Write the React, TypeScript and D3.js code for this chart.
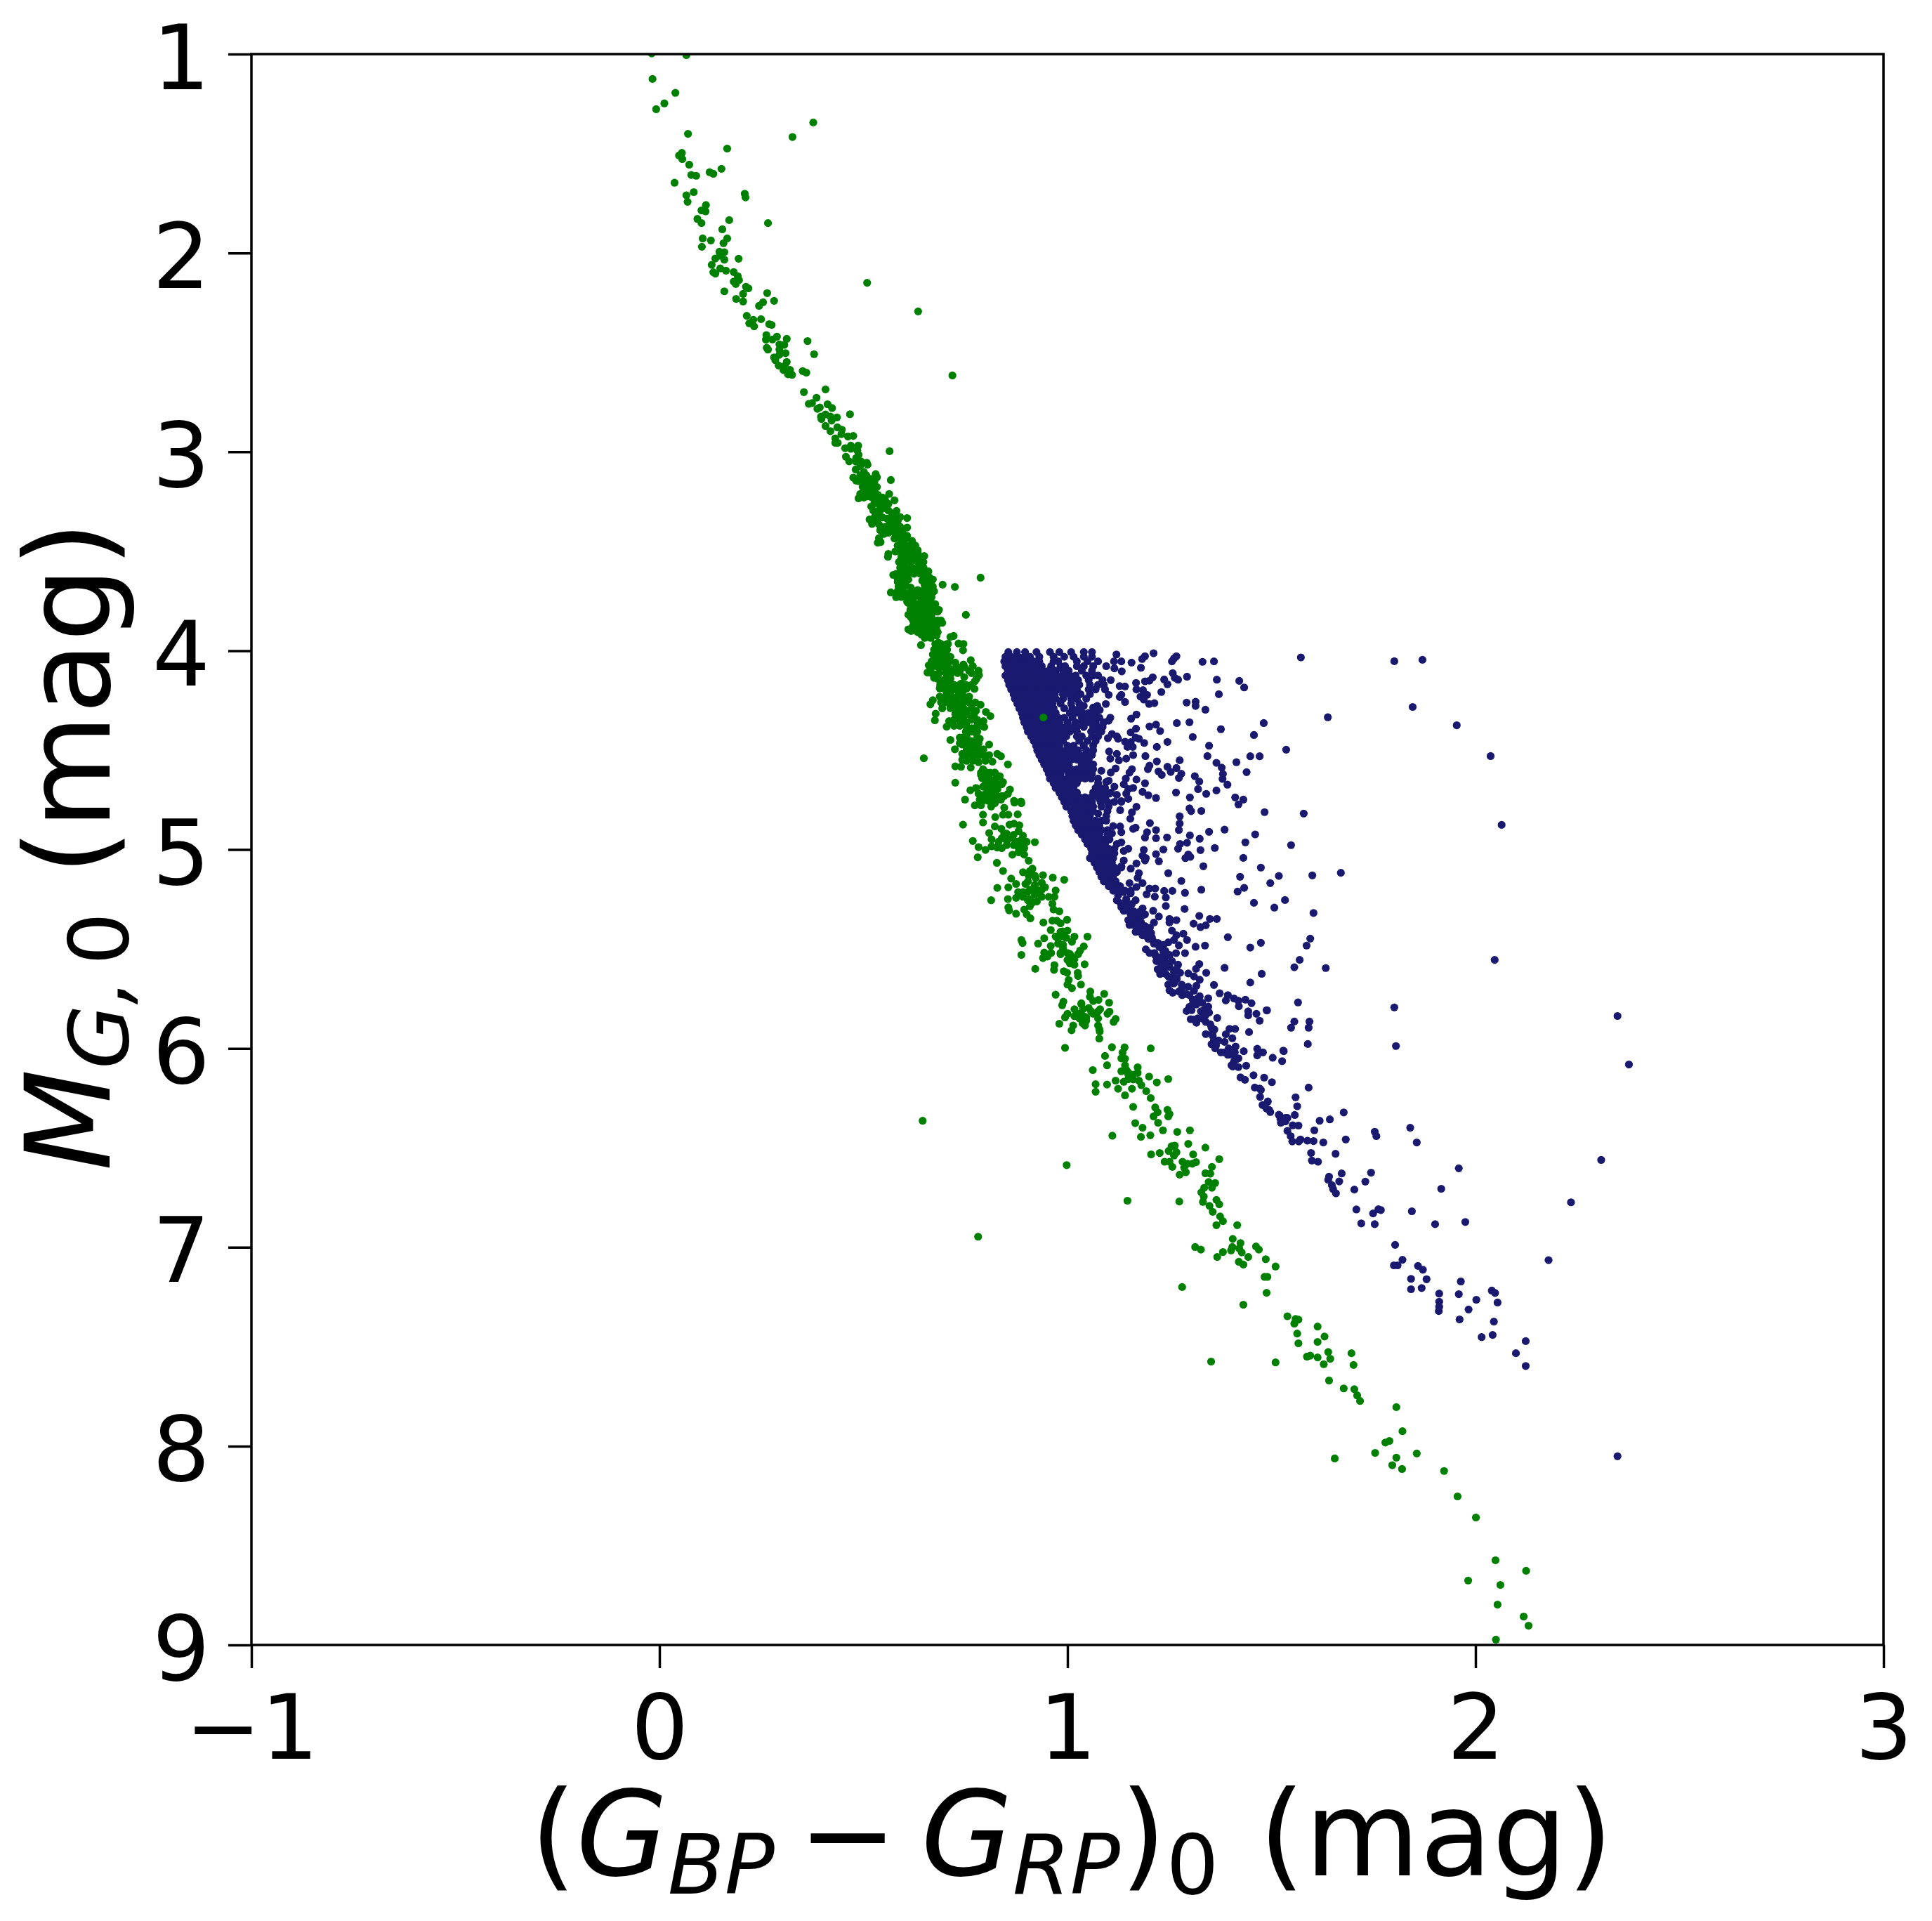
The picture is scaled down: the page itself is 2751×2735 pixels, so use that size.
import React, { useEffect, useRef } from 'react';
import * as d3 from 'd3';

const xTicks = [-1, 0, 1, 2, 3];
const yTicks = [1, 2, 3, 4, 5, 6, 7, 8, 9];

// all values as [colour, M_G]
const greenUpper = [
  [-0.019,0.997],[0.066,1.005],[-0.017,1.125],[0.039,1.195],[0.012,1.248],[-0.008,1.277],[0.070,1.401],[0.326,1.417],[0.377,1.344],[0.166,1.475],
  [0.055,1.497],[0.048,1.510],[0.056,1.528],[0.073,1.556],[0.152,1.577],[0.123,1.594],[0.132,1.602],[0.078,1.608],[0.090,1.612],[0.037,1.647],
  [0.084,1.694],[0.066,1.710],[0.069,1.743],[0.209,1.702],[0.211,1.721],[0.114,1.759],[0.103,1.786],[0.113,1.791],[0.266,1.850],[0.171,1.835],
  [0.093,1.829],[0.103,1.850],[0.154,1.881],[0.106,1.927],[0.126,1.937],[0.166,1.927],[0.157,1.951],[0.104,1.969],[0.147,1.994],[0.159,1.996],
  [0.149,2.014],[0.137,2.028],[0.159,2.034],[0.194,2.029],[0.128,2.060],[0.149,2.078],[0.163,2.089],[0.132,2.097],[0.137,2.104],[0.182,2.096],
  [0.192,2.117],[0.195,2.137],[0.182,2.144],[0.187,2.156],[0.509,2.150],[0.212,2.170],[0.218,2.178],[0.159,2.193],[0.264,2.202],[0.205,2.206],
  [0.188,2.231],[0.205,2.244],[0.281,2.241],[0.254,2.248],[0.244,2.266],[0.634,2.294],[0.214,2.316],[0.230,2.336],[0.249,2.333],[0.220,2.354],
  [0.232,2.369],[0.269,2.358],[0.275,2.362],[0.262,2.413],[0.261,2.436],[0.288,2.421],[0.277,2.435],[0.312,2.432],[0.363,2.443],[0.306,2.462],
  [0.294,2.460],[0.263,2.477],[0.266,2.486],[0.294,2.485],[0.379,2.509],[0.309,2.504],[0.294,2.512],[0.281,2.525],[0.284,2.539],[0.312,2.548],
  [0.292,2.566],[0.307,2.569],[0.320,2.588],[0.304,2.589],[0.351,2.594],[0.360,2.602],[0.315,2.610],[0.325,2.613],[0.718,2.616],[0.354,2.700],
  [0.407,2.686],[0.385,2.728],[0.366,2.759],[0.374,2.755],[0.393,2.777],[0.387,2.784],[0.412,2.761],[0.423,2.780],[0.467,2.811],[0.407,2.812],
  [0.396,2.823],[0.397,2.835],[0.419,2.823],[0.435,2.827],[0.422,2.843],[0.407,2.870],[0.436,2.877],[0.419,2.896],[0.447,2.889],[0.446,2.911],
  [0.462,2.923],[0.475,2.920],[0.431,2.932],[0.431,2.955],[0.437,2.955],[0.564,2.997],[0.469,2.969],[0.487,2.969],[0.455,2.982],[0.469,2.985],
  [0.485,2.994],[0.488,3.015],[0.457,3.025],[0.482,3.032],[0.465,3.048],[0.494,3.048],[0.508,3.055],
];

const greenMiddle = [
  [0.481,3.048],[0.495,3.053],[0.510,3.065],[0.481,3.089],[0.501,3.101],[0.530,3.112],[0.533,3.128],[0.475,3.130],[0.482,3.145],[0.567,3.142],
  [0.501,3.142],[0.518,3.136],[0.507,3.165],[0.524,3.165],[0.515,3.189],[0.501,3.201],[0.527,3.201],[0.563,3.212],[0.492,3.212],[0.535,3.216],
  [0.488,3.234],[0.510,3.224],[0.553,3.242],[0.576,3.244],[0.535,3.248],[0.561,3.262],[0.519,3.275],[0.541,3.277],[0.553,3.283],[0.581,3.297],
  [0.570,3.309],[0.530,3.313],[0.590,3.328],[0.607,3.333],[0.515,3.340],[0.527,3.330],[0.558,3.336],[0.547,3.330],[0.521,3.363],[0.538,3.365],
  [0.570,3.360],[0.581,3.365],[0.607,3.381],[0.596,3.387],[0.541,3.395],[0.561,3.383],[0.578,3.395],[0.550,3.413],[0.590,3.413],[0.607,3.422],
  [0.576,3.436],[0.538,3.434],[0.619,3.448],[0.535,3.457],[0.542,3.454],[0.598,3.460],[0.584,3.472],[0.621,3.477],[0.607,3.489],[0.578,3.501],
  [0.561,3.513],[0.560,3.528],[0.593,3.507],[0.616,3.507],[0.633,3.507],[0.649,3.524],[0.636,3.528],[0.604,3.530],[0.590,3.548],[0.621,3.542],
  [0.593,3.572],[0.633,3.578],[0.647,3.583],[0.659,3.601],[0.604,3.589],[0.573,3.619],[0.590,3.613],[0.610,3.607],[0.644,3.613],[0.661,3.630],
  [0.670,3.642],[0.787,3.633],[0.694,3.668],[0.724,3.679],[0.584,3.654],[0.598,3.642],[0.644,3.648],[0.653,3.666],[0.670,3.678],[0.586,3.678],
  [0.616,3.683],[0.670,3.701],[0.567,3.707],[0.593,3.695],[0.633,3.695],[0.656,3.707],[0.580,3.731],[0.607,3.725],[0.644,3.742],[0.664,3.736],
  [0.621,3.748],[0.607,3.754],[0.676,3.766],[0.636,3.772],[0.659,3.778],[0.685,3.795],[0.682,3.804],[0.615,3.795],[0.639,3.807],[0.751,3.820],
  [0.662,3.825],[0.616,3.831],[0.621,3.848],[0.690,3.848],[0.693,3.860],[0.650,3.860],[0.676,3.866],[0.627,3.872],[0.610,3.893],[0.617,3.901],
  [0.644,3.895],[0.662,3.895],[0.679,3.895],[0.642,3.919],[0.659,3.931],[0.679,3.925],[0.713,3.931],[0.721,3.926],[0.641,3.972],[0.733,3.964],
  [0.745,3.966],[0.744,3.998],[0.684,3.960],[0.707,3.966],[0.696,3.978],[0.682,3.995],[0.702,4.007],[0.670,4.019],[0.713,4.031],[0.763,4.048],
  [0.684,4.042],[0.702,4.054],[0.725,4.060],[0.745,4.070],[0.768,4.078],[0.660,4.074],[0.679,4.078],[0.696,4.083],[0.719,4.095],[0.759,4.101],
  [0.782,4.101],[0.657,4.110],[0.676,4.119],[0.702,4.113],[0.736,4.107],[0.747,4.133],[0.783,4.123],[0.673,4.137],[0.693,4.149],[0.773,4.154],
  [0.739,4.166],[0.708,4.172],[0.725,4.184],[0.753,4.190],[0.772,4.192],[0.687,4.190],[0.705,4.213],[0.736,4.213],[0.687,4.231],[0.670,4.249],
  [0.664,4.270],[0.719,4.237],[0.753,4.237],[0.690,4.260],[0.713,4.272],[0.736,4.266],[0.765,4.266],[0.787,4.272],[0.693,4.290],[0.730,4.296],
  [0.753,4.302],[0.776,4.302],[0.800,4.308],[0.811,4.329],[0.677,4.317],[0.675,4.350],[0.736,4.331],[0.765,4.331],[0.725,4.319],[0.710,4.354],
  [0.753,4.360],[0.779,4.354],[0.794,4.354],[0.722,4.378],[0.704,4.382],[0.796,4.384],[0.765,4.390],[0.776,4.413],[0.753,4.419],[0.736,4.437],
  [0.713,4.449],[0.785,4.443],[0.765,4.455],[0.742,4.472],[0.808,4.472],[0.724,4.496],[0.776,4.478],[0.753,4.496],[0.794,4.496],[0.828,4.519],
  [0.837,4.531],[0.742,4.519],[0.765,4.525],[0.799,4.531],[0.648,4.541],[0.816,4.558],[0.854,4.572],[0.742,4.549],[0.782,4.561],[0.725,4.582],
  [0.739,4.584],[0.763,4.588],[0.793,4.596],[0.811,4.614],[0.788,4.625],[0.834,4.631],[0.799,4.649],[0.842,4.661],[0.725,4.664],[0.817,4.667],
  [0.808,4.690],[0.762,4.702],[0.776,4.690],[0.859,4.698],[0.828,4.696],[0.854,4.720],[0.799,4.720],[0.819,4.726],[0.839,4.731],[0.749,4.749],
  [0.785,4.749],[0.811,4.749],[0.837,4.749],[0.869,4.755],[0.886,4.758],
  [0.941,4.336],
];

const greenLower = [
  [0.813,4.684],[0.799,4.731],[0.822,4.743],[0.845,4.731],[0.870,4.764],[0.887,4.767],[0.773,4.778],[0.788,4.778],[0.813,4.784],[0.845,4.790],
  [0.793,4.825],[0.823,4.837],[0.842,4.825],[0.855,4.825],[0.878,4.823],[0.793,4.864],[0.744,4.875],[0.822,4.884],[0.858,4.875],[0.869,4.870],
  [0.882,4.878],[0.838,4.896],[0.808,4.917],[0.880,4.908],[0.851,4.920],[0.868,4.926],[0.891,4.931],[0.814,4.949],[0.768,4.957],[0.920,4.963],
  [0.831,4.961],[0.851,4.955],[0.874,4.961],[0.900,4.961],[0.782,4.988],[0.799,5.002],[0.814,4.984],[0.839,4.993],[0.880,4.990],[0.894,4.993],
  [0.865,5.026],[0.894,5.026],[0.780,5.039],[0.905,5.056],[0.827,5.067],[0.914,5.096],[0.842,5.108],[0.891,5.114],[0.940,5.129],[0.964,5.141],
  [0.992,5.152],[0.862,5.146],[0.905,5.132],[0.922,5.143],[0.874,5.173],[0.897,5.173],[0.937,5.167],[0.828,5.193],[0.855,5.190],[0.920,5.190],
  [0.945,5.190],[0.971,5.206],[0.879,5.214],[0.902,5.214],[0.928,5.220],[0.813,5.255],[0.854,5.249],[0.874,5.243],[0.891,5.238],[0.908,5.249],
  [0.954,5.238],[0.968,5.238],[0.925,5.261],[0.908,5.285],[0.963,5.273],[0.855,5.291],[0.857,5.306],[0.894,5.302],[0.966,5.302],[0.980,5.311],
  [0.874,5.323],[0.900,5.326],[0.909,5.346],[0.941,5.367],[0.963,5.358],[0.974,5.358],[0.983,5.371],[0.999,5.353],[0.959,5.405],[0.988,5.412],
  [1.000,5.408],[1.049,5.438],[1.017,5.438],[0.943,5.446],[0.977,5.449],[0.997,5.444],[0.887,5.455],[0.890,5.470],[0.928,5.473],[1.011,5.464],
  [0.959,5.485],[0.989,5.479],[1.040,5.487],[1.031,5.508],[0.887,5.530],[0.943,5.518],[0.960,5.520],[0.983,5.526],[1.006,5.526],[1.026,5.526],
  [0.940,5.546],[0.951,5.538],[1.000,5.555],[1.017,5.550],[1.042,5.577],[1.017,5.579],[1.006,5.573],[0.921,5.600],[0.968,5.581],[0.967,5.605],
  [0.991,5.612],[0.999,5.620],[1.025,5.620],[1.026,5.636],[1.003,5.656],[1.000,5.679],[1.033,5.679],[1.011,5.697],[1.056,5.714],[0.971,5.730],
  [1.090,5.726],[1.055,5.741],[1.076,5.756],[1.063,5.762],[1.034,5.773],[0.990,5.765],[0.987,5.783],[1.102,5.770],[1.017,5.803],[1.052,5.797],
  [1.080,5.803],[1.103,5.815],[1.000,5.826],[0.994,5.844],[1.029,5.826],[1.063,5.826],[1.098,5.826],[1.017,5.838],[1.046,5.844],[1.075,5.850],
  [1.118,5.852],[1.113,5.867],[0.980,5.876],[1.037,5.873],[1.043,5.885],[1.075,5.885],[1.014,5.885],[1.078,5.903],[1.010,5.909],[1.079,5.915],
  [1.078,5.951],[0.994,5.997],[1.109,5.994],[1.204,6.000],[1.140,5.995],[1.135,6.021],[1.092,6.038],[1.132,6.050],[1.141,6.052],[1.097,6.085],
  [1.141,6.085],[1.172,6.095],[1.132,6.115],[1.062,6.109],[1.149,6.121],[1.172,6.123],[1.200,6.142],[1.247,6.154],[1.118,6.162],[1.161,6.156],
  [1.175,6.162],[1.219,6.171],[1.069,6.180],[1.097,6.182],[1.138,6.168],[1.181,6.185],[1.124,6.203],[1.158,6.203],[1.193,6.215],[1.069,6.218],
  [1.141,6.236],[1.204,6.250],[1.161,6.294],[1.215,6.297],[1.221,6.321],[1.245,6.309],[1.250,6.330],[1.211,6.342],[1.247,6.342],[1.166,6.376],
  [1.222,6.374],[1.184,6.399],[1.234,6.412],[1.269,6.420],[1.300,6.412],[1.180,6.445],[1.203,6.437],[1.296,6.480],[1.338,6.499],[1.263,6.489],
  [1.255,6.492],[1.248,6.516],[1.267,6.522],[1.261,6.539],[1.205,6.533],[1.226,6.526],[1.308,6.533],[1.372,6.557],[1.238,6.570],[1.250,6.570],
  [1.282,6.570],[1.294,6.580],[1.315,6.572],[1.306,6.580],[1.354,6.596],[1.257,6.596],[1.286,6.600],[1.290,6.623],[1.275,6.635],[1.338,6.628],
  [1.350,6.630],[1.346,6.672],[1.362,6.677],[1.335,6.701],[1.354,6.701],[1.328,6.724],[1.334,6.745],[1.147,6.766],[1.274,6.770],[1.365,6.762],
  [1.372,6.784],[1.332,6.772],[1.348,6.792],[1.356,6.822],[1.374,6.845],[1.381,6.869],[1.365,6.889],[1.416,6.889],[1.405,6.958],[1.424,6.979],
  [1.313,6.999],[1.327,7.012],[1.462,6.996],[1.469,7.012],[1.404,6.999],[1.421,7.006],[1.401,7.016],[1.427,7.026],[1.381,7.024],[1.367,7.049],
  [1.443,7.049],[1.486,7.060],[1.420,7.073],[1.431,7.087],[1.510,7.097],[1.483,7.149],[1.490,7.149],[1.281,7.200],[1.488,7.229],[1.431,7.289],
  [1.539,7.347],[1.559,7.361],[1.566,7.364],[1.556,7.384],[1.613,7.399],[1.563,7.434],[1.630,7.449],[1.613,7.476],[1.566,7.483],[1.639,7.527],
  [1.696,7.533],[1.587,7.550],[1.595,7.545],[1.613,7.554],[1.644,7.561],[1.352,7.575],[1.510,7.579],[1.628,7.588],[1.701,7.592],[1.641,7.670],
  [1.677,7.710],[1.703,7.714],[1.710,7.745],[1.717,7.773],[1.806,7.804],[1.821,7.925],[1.789,7.974],[1.779,7.982],[1.754,8.034],[1.856,8.037],
  [1.655,8.062],[1.806,8.058],[1.796,8.096],[1.820,8.115],[1.923,8.125],[1.956,8.253],[2.001,8.359],[2.049,8.574],[2.124,8.627],[1.982,8.676],
  [2.061,8.698],[2.054,8.797],[2.118,8.857],[2.130,8.903],[2.050,8.973],
  [0.645,6.364],[0.998,6.587],[0.781,6.947],[1.110,6.439],
];

// solid stretches of the green band: points overlap, estimated [M_G, colours]
const greenCoreRows: [number, number[]][] = [
  [3.071,[0.492]],
  [3.118,[0.492,0.507]],
  [3.148,[0.489,0.510,0.527]],
  [3.177,[0.498,0.515,0.533]],
  [3.207,[0.510,0.518]],
  [3.230,[0.501,0.521,0.547]],
  [3.259,[0.527,0.550]],
  [3.295,[0.524,0.541,0.561]],
  [3.324,[0.535,0.573]],
  [3.348,[0.533,0.564,0.584]],
  [3.377,[0.553,0.570,0.590]],
  [3.407,[0.561,0.576,0.596]],
  [3.436,[0.590,0.604]],
  [3.471,[0.584,0.598,0.613,0.627]],
  [3.495,[0.590,0.604,0.619,0.633]],
  [3.524,[0.593,0.607,0.621,0.636]],
  [3.554,[0.587,0.601,0.616,0.633,0.647]],
  [3.583,[0.590,0.604,0.619,0.633,0.647]],
  [3.613,[0.581,0.596,0.610,0.624,0.639,0.653]],
  [3.642,[0.584,0.596,0.610,0.647,0.662]],
  [3.671,[0.590,0.604,0.650,0.665]],
  [3.701,[0.584,0.598,0.616,0.630,0.644,0.659,0.673]],
  [3.730,[0.593,0.610,0.624,0.639,0.653,0.667]],
  [3.760,[0.610,0.624,0.639,0.653,0.667]],
  [3.789,[0.616,0.630,0.644,0.659,0.673]],
  [3.819,[0.610,0.624,0.639,0.653,0.667]],
  [3.848,[0.630,0.644,0.659,0.673,0.682]],
  [3.877,[0.621,0.636,0.650,0.665,0.679]],
  [3.907,[0.633,0.650,0.667,0.682]],
  [3.936,[0.650,0.665]],
  [3.966,[0.676,0.690,0.705]],
  [3.995,[0.673,0.690,0.705]],
  [4.025,[0.673,0.688,0.702]],
  [4.054,[0.667,0.682,0.696,0.711]],
  [4.083,[0.667,0.685,0.708,0.731,0.748]],
  [4.113,[0.667,0.685,0.716,0.731,0.765]],
  [4.142,[0.682,0.702,0.713,0.777]],
  [4.172,[0.688,0.699,0.722,0.736,0.751,0.765]],
  [4.201,[0.702,0.716,0.731,0.745]],
  [4.231,[0.702,0.716,0.731,0.745,0.759]],
  [4.260,[0.702,0.716,0.731,0.745,0.759,0.774]],
  [4.289,[0.713,0.722,0.736,0.745,0.765]],
  [4.319,[0.742,0.753,0.771]],
  [4.348,[0.722,0.736,0.745,0.765,0.779]],
  [4.378,[0.736,0.751,0.779,0.791]],
  [4.407,[0.751,0.765,0.779]],
  [4.437,[0.742,0.753,0.779]],
  [4.466,[0.736,0.753,0.765,0.782]],
  [4.495,[0.765,0.779]],
  [4.525,[0.753,0.777,0.788,0.808]],
  [4.554,[0.753,0.768,0.799]],
  [4.613,[0.788,0.802,0.822]],
  [4.642,[0.791,0.808,0.825]],
  [4.672,[0.799,0.814,0.828]],
  [4.701,[0.805,0.820]],
  [4.731,[0.808,0.828]],
];

const greenClusters = [
  [0.793,4.684],[0.811,4.661],[0.828,4.696],[0.782,4.719],[0.805,4.719],[0.839,4.672],[0.793,4.755],[0.822,4.767],[0.805,4.755],
  [0.845,4.920],[0.859,4.943],[0.839,4.943],[0.885,4.955],[0.891,4.978],[0.868,4.978],[0.851,4.978],[0.880,5.014],[0.828,4.990],
  [0.908,5.108],[0.920,5.131],[0.903,5.161],[0.920,5.178],[0.937,5.202],[0.908,5.202],[0.920,5.226],[0.937,5.238],[0.903,5.255],[0.914,5.267],[0.891,5.214],
  [0.983,5.414],[0.989,5.437],[0.977,5.473],[0.989,5.496],[0.983,5.520],[1.000,5.520],[1.012,5.543],[0.971,5.437],
  [1.034,5.779],[1.038,5.802],[1.040,5.838],[1.058,5.814],[1.075,5.814],[1.029,5.849],[1.046,5.861],
  [1.149,6.132],[1.144,6.108],[1.161,6.132],[1.149,6.155],
];

// the solid wedge: the points overlap too much to separate, so these are estimated [M_G, colours]
const blueCoreRows: [number, number[]][] = [
  [4.007,[0.855,0.876,0.896,0.924,0.957,0.980,1.009,1.040,1.060]],
  [4.031,[0.848,0.862,0.880,0.894,0.908,0.931,0.966,0.992,1.015,1.040,1.060]],
  [4.054,[0.845,0.860,0.874,0.888,0.903,0.917,0.931,0.966,0.977,1.023,1.049,1.075]],
  [4.078,[0.848,0.865,0.880,0.894,0.908,0.923,0.937,0.960,0.983,0.994,1.023,1.040,1.063,1.095]],
  [4.101,[0.854,0.868,0.882,0.897,0.911,0.926,0.940,0.954,0.971,0.989,1.003,1.035,1.060]],
  [4.125,[0.848,0.860,0.874,0.888,0.903,0.917,0.931,0.946,0.960,0.974,0.989,1.006,1.020,1.046,1.063,1.075]],
  [4.148,[0.854,0.868,0.882,0.897,0.911,0.926,0.940,0.954,0.969,0.983,0.997,1.012,1.026,1.052,1.086,1.106]],
  [4.172,[0.857,0.871,0.885,0.900,0.914,0.928,0.943,0.957,0.971,0.986,1.000,1.015,1.029,1.055,1.075,1.089]],
  [4.195,[0.862,0.877,0.891,0.905,0.920,0.934,0.949,0.963,0.977,0.992,1.006,1.023,1.052,1.069,1.092]],
  [4.219,[0.868,0.882,0.897,0.911,0.926,0.940,0.954,0.969,0.989,1.003,1.017,1.032,1.055]],
  [4.242,[0.871,0.885,0.900,0.914,0.928,0.943,0.957,0.971,0.989,1.009,1.023,1.046]],
  [4.266,[0.877,0.891,0.905,0.920,0.934,0.949,0.963,0.983,1.009,1.029]],
  [4.278,[1.040]],
  [4.290,[0.882,0.897,0.911,0.926,0.940,0.954,0.966,0.992,1.012,1.029]],
  [4.313,[0.888,0.903,0.917,0.931,0.946,0.960,0.971,1.006,1.023,1.037,1.052,1.069]],
  [4.337,[0.891,0.905,0.920,0.934,0.949,0.963,0.977,0.992,1.012,1.035,1.049,1.063,1.078]],
  [4.360,[0.894,0.908,0.923,0.937,0.951,0.966,0.980,1.000,1.020,1.037,1.052,1.069,1.089]],
  [4.384,[0.900,0.914,0.928,0.943,0.957,0.971,0.986,0.997,1.009,1.023,1.040,1.063,1.078,1.086]],
  [4.407,[0.903,0.917,0.931,0.946,0.960,0.974,0.989,1.006,1.023,1.058,1.075,1.083]],
  [4.431,[0.911,0.926,0.940,0.954,0.969,0.983,0.997,1.023,1.035,1.060,1.075]],
  [4.454,[0.917,0.931,0.946,0.960,0.974,0.989,1.029,1.049,1.069]],
  [4.478,[0.923,0.937,0.951,0.966,0.980,1.000,1.015,1.040,1.063]],
  [4.501,[0.926,0.940,0.954,0.969,0.983,0.997,1.012,1.026,1.046,1.063]],
  [4.525,[0.931,0.946,0.960,0.974,0.989,1.003,1.017,1.032,1.046,1.060]],
  [4.548,[0.937,0.951,0.966,0.980,0.994,1.009,1.023,1.037,1.052]],
  [4.572,[0.943,0.957,0.971,0.986,1.003,1.035,1.049,1.063]],
  [4.596,[0.949,0.963,0.977,0.992,1.009,1.023,1.037,1.052,1.063]],
  [4.619,[0.954,0.969,0.983,1.003,1.017,1.032,1.046,1.060]],
  [4.643,[0.957,0.971,0.986,1.000,1.015,1.029,1.043,1.058,1.075]],
  [4.666,[0.966,0.980,0.994,1.009,1.023,1.075]],
  [4.690,[0.971,0.986,1.000,1.015,1.069,1.081,1.092]],
  [4.713,[0.980,0.994,1.009,1.023,1.063,1.078,1.092,1.106]],
  [4.737,[0.986,1.000,1.015,1.029,1.043,1.058,1.075,1.092]],
  [4.760,[0.992,1.006,1.020,1.035,1.049,1.060,1.081,1.098,1.115,1.132]],
  [4.784,[0.997,1.015,1.029,1.046,1.063,1.083,1.101]],
  [4.807,[1.009,1.023,1.037,1.052,1.063,1.098]],
  [4.831,[1.012,1.026,1.040,1.055,1.095]],
  [4.855,[1.015,1.029,1.043,1.058,1.069,1.083,1.095]],
  [4.878,[1.020,1.035,1.049,1.063,1.078]],
  [4.902,[1.026,1.040,1.055,1.069,1.083,1.098]],
  [4.925,[1.035,1.049,1.063,1.078,1.098]],
  [4.949,[1.043,1.058,1.072,1.086,1.101]],
  [4.972,[1.049,1.063,1.078,1.092]],
  [4.996,[1.058,1.072,1.086,1.101,1.115]],
  [5.019,[1.060,1.075,1.089,1.103]],
  [5.043,[1.055,1.069,1.083,1.098,1.112]],
  [5.066,[1.066,1.081,1.095,1.109]],
  [5.090,[1.072,1.086,1.101,1.115,1.132]],
  [5.113,[1.078,1.092,1.106,1.121]],
  [5.137,[1.083,1.098,1.112]],
  [5.160,[1.089,1.103,1.118]],
  [5.184,[1.101,1.115,1.129]],
  [5.207,[1.112,1.126,1.141,1.155]],
];

const blueOuter = [
  [1.120,4.019],[1.132,4.054],[1.114,4.054],[1.157,4.060],[1.180,4.086],[1.133,4.104],[1.115,4.089],[1.211,4.013],[1.267,4.028],[1.261,4.039],
  [1.256,4.054],[1.190,4.028],[1.183,4.042],[1.331,4.056],[1.359,4.054],[1.572,4.034],[1.293,4.131],[1.258,4.113],[1.271,4.146],[1.263,4.137],
  [1.209,4.134],[1.190,4.154],[1.201,4.151],[1.237,4.145],[1.245,4.169],[1.168,4.162],[1.169,4.195],[1.230,4.208],[1.185,4.199],[1.195,4.222],
  [1.179,4.231],[1.187,4.246],[1.366,4.146],[1.421,4.152],[1.433,4.185],[1.371,4.219],[1.128,4.178],[1.141,4.180],[1.132,4.222],[1.128,4.233],
  [1.141,4.258],[1.101,4.222],[1.094,4.268],[1.063,4.286],[1.073,4.278],[1.079,4.298],[1.200,4.268],[1.213,4.264],[1.292,4.261],[1.314,4.257],
  [1.314,4.278],[1.338,4.297],[1.638,4.335],[1.169,4.321],[1.156,4.342],[1.105,4.337],[1.101,4.352],[1.268,4.364],[1.299,4.360],[1.201,4.381],
  [1.217,4.372],[1.227,4.404],[1.168,4.392],[1.155,4.411],[1.481,4.364],[1.376,4.395],[1.457,4.424],[1.307,4.434],[1.109,4.419],[1.121,4.431],
  [1.124,4.443],[1.099,4.440],[1.141,4.458],[1.155,4.460],[1.167,4.437],[1.175,4.443],[1.188,4.464],[1.245,4.459],[1.219,4.484],[1.147,4.484],
  [1.160,4.484],[1.347,4.478],[1.536,4.498],[1.448,4.531],[1.471,4.531],[1.343,4.530],[1.102,4.507],[1.121,4.519],[1.191,4.530],[1.161,4.525],
  [1.144,4.543],[1.126,4.552],[1.105,4.543],[1.219,4.557],[1.275,4.551],[1.365,4.564],[1.414,4.561],[1.378,4.588],[1.439,4.611],[1.381,4.620],
  [1.380,4.645],[1.392,4.674],[1.245,4.584],[1.267,4.590],[1.253,4.610],[1.201,4.578],[1.197,4.596],[1.223,4.607],[1.231,4.625],[1.279,4.619],
  [1.273,4.640],[1.312,4.631],[1.323,4.658],[1.083,4.604],[1.106,4.613],[1.118,4.592],[1.158,4.596],[1.152,4.613],[1.143,4.643],[1.169,4.648],
  [1.190,4.667],[1.095,4.660],[1.101,4.654],[1.115,4.684],[1.138,4.672],[1.161,4.690],[1.149,4.696],[1.320,4.696],[1.365,4.703],[1.340,4.720],
  [1.266,4.713],[1.184,4.710],[1.198,4.727],[1.217,4.741],[1.300,4.738],[1.411,4.738],[1.431,4.749],[1.419,4.773],[1.144,4.719],[1.149,4.745],
  [1.132,4.757],[1.103,4.719],[1.121,4.725],[1.169,4.785],[1.158,4.813],[1.154,4.845],[1.299,4.793],[1.303,4.807],[1.328,4.806],[1.483,4.812],
  [1.579,4.819],[1.129,4.802],[1.075,4.819],[1.275,4.833],[1.275,4.869],[1.273,4.902],[1.202,4.867],[1.217,4.902],[1.195,4.913],[1.190,4.940],
  [1.217,4.943],[1.347,4.911],[1.385,4.900],[1.460,4.924],[1.436,4.964],[1.548,4.978],[1.244,4.939],[1.300,4.929],[1.324,4.946],[1.112,4.882],
  [1.129,4.884],[1.132,4.913],[1.161,4.896],[1.167,4.890],[1.109,4.919],[1.121,4.972],[1.132,4.964],[1.103,4.949],[1.149,4.996],[1.138,5.007],
  [1.115,5.019],[1.187,5.002],[1.235,5.000],[1.217,5.023],[1.184,5.031],[1.192,5.043],[1.224,5.059],[1.190,5.055],[1.169,5.070],[1.276,4.972],
  [1.293,4.966],[1.271,4.996],[1.326,5.003],[1.361,4.992],[1.289,5.043],[1.296,5.025],[1.301,5.037],[1.431,5.042],[1.333,5.084],[1.474,5.091],
  [1.138,5.055],[1.132,5.084],[1.155,5.096],[1.175,5.119],[1.247,5.119],[1.172,5.143],[1.279,5.158],[1.423,5.137],[1.518,5.133],[1.600,5.130],
  [1.497,5.169],[1.152,5.169],[1.184,5.169],[1.169,5.188],[1.201,5.196],[1.215,5.196],[1.194,5.225],[1.214,5.237],[1.237,5.208],[1.257,5.208],
  [1.241,5.241],[1.288,5.218],[1.328,5.202],[1.433,5.193],[1.417,5.211],[1.457,5.268],[1.533,5.254],[1.507,5.292],[1.603,5.319],
  [1.801,4.053],[1.870,4.046],[1.846,4.283],[1.954,4.375],[2.037,4.530],[2.064,4.876],[1.670,5.117],[1.595,5.448],[1.586,5.483],[1.569,5.555],
  [1.556,5.592],[1.633,5.596],[2.047,5.555],[1.565,5.769],[1.489,5.809],[1.801,5.794],[2.348,5.837],[1.556,5.865],[1.593,5.865],[1.548,5.896],
  [1.591,5.896],[1.589,5.978],[1.805,5.988],[1.529,6.011],[2.376,6.081],[2.308,6.561],[2.234,6.774],[2.179,7.065],[2.348,8.051],
];

const blueTail = [
  [1.121,5.255],[1.132,5.290],[1.144,5.249],[1.155,5.220],[1.167,5.255],[1.149,5.308],[1.184,5.296],[1.210,5.308],[1.241,5.284],[1.287,5.299],
  [1.149,5.355],[1.164,5.331],[1.175,5.349],[1.190,5.326],[1.224,5.337],[1.212,5.367],[1.202,5.393],[1.161,5.379],[1.172,5.390],[1.250,5.349],
  [1.267,5.355],[1.250,5.367],[1.323,5.334],[1.349,5.349],[1.366,5.349],[1.309,5.373],[1.326,5.390],[1.339,5.381],[1.167,5.414],[1.184,5.431],
  [1.256,5.408],[1.284,5.423],[1.267,5.431],[1.393,5.441],[1.474,5.469],[1.448,5.493],[1.198,5.449],[1.210,5.461],[1.247,5.467],[1.261,5.455],
  [1.293,5.455],[1.212,5.473],[1.273,5.482],[1.314,5.489],[1.337,5.483],[1.192,5.502],[1.234,5.505],[1.266,5.521],[1.288,5.521],[1.201,5.520],
  [1.215,5.532],[1.238,5.549],[1.256,5.561],[1.218,5.561],[1.230,5.573],[1.271,5.579],[1.323,5.576],[1.385,5.595],[1.315,5.600],[1.238,5.596],
  [1.476,5.625],[1.448,5.669],[1.227,5.626],[1.261,5.614],[1.276,5.620],[1.296,5.623],[1.340,5.620],[1.310,5.638],[1.324,5.655],[1.261,5.643],
  [1.247,5.679],[1.261,5.673],[1.280,5.679],[1.296,5.690],[1.316,5.685],[1.359,5.681],[1.258,5.720],[1.373,5.723],[1.393,5.732],[1.281,5.732],
  [1.299,5.732],[1.324,5.738],[1.345,5.748],[1.408,5.749],[1.436,5.755],[1.388,5.759],[1.419,5.761],[1.307,5.755],[1.451,5.773],[1.420,5.788],
  [1.316,5.779],[1.299,5.791],[1.292,5.812],[1.336,5.805],[1.488,5.808],[1.347,5.820],[1.443,5.814],[1.463,5.826],[1.443,5.834],[1.367,5.847],
  [1.471,5.861],[1.302,5.853],[1.319,5.849],[1.316,5.871],[1.339,5.867],[1.353,5.896],[1.397,5.902],[1.411,5.902],[1.445,5.918],[1.339,5.928],
  [1.388,5.929],[1.356,5.938],[1.404,5.949],[1.359,5.961],[1.385,5.967],[1.353,5.979],[1.412,5.991],[1.362,6.000],[1.465,6.002],[1.530,6.014],
  [1.479,6.020],[1.432,6.014],[1.385,6.020],[1.465,6.035],[1.402,6.032],[1.419,6.050],[1.503,6.047],[1.526,6.064],[1.408,6.067],[1.402,6.085],
  [1.419,6.094],[1.438,6.087],[1.456,6.135],[1.424,6.146],[1.435,6.158],[1.482,6.147],[1.501,6.170],[1.459,6.197],[1.474,6.209],[1.472,6.244],
  [1.491,6.267],[1.478,6.285],[1.488,6.303],[1.497,6.320],[1.559,6.246],[1.563,6.291],[1.557,6.335],[1.520,6.338],[1.534,6.350],[1.522,6.355],
  [1.534,6.367],[1.518,6.334],[1.533,6.357],[1.523,6.374],[1.539,6.350],
  [1.591,6.197],[1.677,6.322],[1.643,6.357],[1.618,6.364],[1.605,6.412],[1.566,6.388],[1.552,6.387],[1.539,6.415],[1.547,6.441],[1.551,6.468],
  [1.567,6.468],[1.571,6.458],[1.588,6.464],[1.603,6.466],[1.627,6.473],[1.682,6.458],[1.753,6.419],[1.757,6.441],[1.840,6.399],[1.856,6.473],
  [1.597,6.526],[1.657,6.530],[1.599,6.564],[1.614,6.570],[1.672,6.629],[1.744,6.625],[1.641,6.645],[1.639,6.661],[1.666,6.669],[1.730,6.670],
  [1.959,6.603],[1.916,6.706],[1.703,6.710],[1.648,6.688],[1.651,6.708],[1.658,6.729],[1.708,6.810],[1.762,6.809],[1.768,6.813],[1.749,6.830],
  [1.844,6.819],[1.720,6.880],[1.753,6.884],[1.901,6.884],[1.975,6.873],[1.803,6.988],[1.821,7.063],[1.800,7.091],[1.809,7.091],[1.859,7.094],
  [1.871,7.113],[1.842,7.159],[1.880,7.161],[1.964,7.172],[1.842,7.211],[1.868,7.205],[1.911,7.233],[1.959,7.236],[2.040,7.218],[2.048,7.230],
  [2.054,7.278],[2.002,7.264],[1.911,7.274],[1.911,7.299],[1.910,7.321],[1.983,7.313],[1.961,7.363],[2.045,7.374],[2.042,7.441],[2.015,7.452],
  [2.123,7.472],[2.099,7.533],[2.123,7.597],
  [1.103,5.178],[1.115,5.202],[1.126,5.190],[1.138,5.214],[1.124,5.231],[1.144,5.273],[1.158,5.273],[1.138,5.308],[1.155,5.326],[1.167,5.355],
  [1.184,5.331],[1.152,5.379],[1.178,5.414],[1.195,5.437],[1.207,5.443],[1.189,5.426],[1.213,5.520],[1.224,5.543],[1.236,5.532],[1.230,5.590],
  [1.221,5.602],[1.241,5.626],[1.256,5.649],[1.267,5.602],[1.250,5.708],[1.273,5.714],[1.290,5.726],[1.307,5.779],[1.319,5.749],[1.304,5.808],
  [1.327,5.814],[1.339,5.832],[1.310,5.855],[1.350,5.879],[1.356,5.920],[1.364,5.985],[1.376,6.020],[1.393,6.032],[1.413,6.055],[1.405,6.091],
  [1.471,6.202],[1.482,6.285],[1.494,6.309],
  [1.130,5.270],[1.142,5.300],[1.150,5.283],[1.162,5.310],[1.175,5.315],[1.160,5.345],[1.180,5.365],[1.190,5.385],[1.195,5.410],[1.205,5.420],
  [1.178,5.385],[1.222,5.470],[1.235,5.480],[1.225,5.490],[1.240,5.510],[1.250,5.530],[1.235,5.525],[1.245,5.575],[1.250,5.590],[1.248,5.640],
  [1.268,5.650],[1.280,5.700],[1.310,5.710],[1.330,5.770],[1.345,5.790],[1.330,5.850],[1.360,5.905],[1.370,5.960],[1.395,6.000],[1.410,6.020],
];

const App = () => {
  const ref = useRef<SVGSVGElement>(null);

  useEffect(() => {
    const width = 2751;
    const height = 2735;
    const margin = { top: 77, right: 69, bottom: 393, left: 358 };

    const svg = d3.select(ref.current);
    svg.selectAll('*').remove();

    const xScale = d3.scaleLinear().domain([-1, 3]).range([margin.left, width - margin.right]);
    const yScale = d3.scaleLinear().domain([1, 9]).range([margin.top, height - margin.bottom]);

    svg.append('clipPath')
      .attr('id', 'plot-clip')
      .append('rect')
      .attr('x', margin.left)
      .attr('y', margin.top)
      .attr('width', width - margin.left - margin.right)
      .attr('height', height - margin.top - margin.bottom);

    const fromRows = rows => rows.flatMap(([mag, colours]) => colours.map(c => [c, mag]));
    const blue = [...fromRows(blueCoreRows), ...blueOuter, ...blueTail];
    const green = [...greenUpper, ...greenMiddle, ...greenLower, ...fromRows(greenCoreRows), ...greenClusters];

    const dots = svg.append('g').attr('clip-path', 'url(#plot-clip)');
    dots.selectAll('circle.blue')
      .data(blue)
      .enter()
      .append('circle')
      .attr('class', 'blue')
      .attr('cx', d => xScale(d[0]))
      .attr('cy', d => yScale(d[1]))
      .attr('r', 5.6)
      .attr('fill', 'midnightblue');
    dots.selectAll('circle.green')
      .data(green)
      .enter()
      .append('circle')
      .attr('class', 'green')
      .attr('cx', d => xScale(d[0]))
      .attr('cy', d => yScale(d[1]))
      .attr('r', 5.6)
      .attr('fill', 'green');

    // frame
    svg.append('rect')
      .attr('x', margin.left)
      .attr('y', margin.top)
      .attr('width', width - margin.left - margin.right)
      .attr('height', height - margin.top - margin.bottom)
      .attr('fill', 'none')
      .attr('stroke', 'black')
      .attr('stroke-width', 3.5);

    const xAxis = svg.append('g')
      .attr('transform', `translate(0, ${height - margin.bottom})`)
      .call(d3.axisBottom(xScale).tickValues(xTicks).tickSize(33).tickPadding(37).tickFormat(d => String(d).replace('-', '\u2212')));
    const yAxis = svg.append('g')
      .attr('transform', `translate(${margin.left}, 0)`)
      .call(d3.axisLeft(yScale).tickValues(yTicks).tickSize(33).tickPadding(26).tickFormat(d => String(d)));

    [xAxis, yAxis].forEach(axis => {
      axis.select('.domain').remove();
      axis.selectAll('line').attr('stroke', 'black').attr('stroke-width', 3.5);
      axis.selectAll('text')
        .attr('fill', 'black')
        .style('font-family', '"DejaVu Sans"')
        .style('font-size', '129px');
    });
    yAxis.selectAll('text').attr('dy', '0.38em');

    // mathtext style labels
    const labelSize = 168;
    const subSize = 118;
    const subDrop = 26;

    const addMath = (text, parts) => {
      let dy = 0;
      parts.forEach(p => {
        const next = p.sub ? subDrop : 0;
        text.append('tspan')
          .attr('dy', next - dy)
          .attr('dx', p.dx || 0)
          .style('font-size', `${p.sub ? subSize : labelSize}px`)
          .style('font-style', p.it ? 'italic' : 'normal')
          .text(p.t);
        dy = next;
      });
    };

    const xLabel = svg.append('text')
      .attr('x', 755)
      .attr('y', 2670)
      .attr('fill', 'black')
      .style('font-family', '"DejaVu Sans"');
    addMath(xLabel, [
      { t: '(' },
      { t: 'G', it: true },
      { t: 'BP', it: true, sub: true },
      { t: '\u2212', dx: 34 },
      { t: 'G', it: true, dx: 34 },
      { t: 'RP', it: true, sub: true },
      { t: ')' },
      { t: '0', sub: true },
      { t: '(mag)', dx: 57 },
    ]);

    const yLabel = svg.append('text')
      .attr('transform', 'translate(156, 1667) rotate(-90)')
      .attr('fill', 'black')
      .style('font-family', '"DejaVu Sans"');
    addMath(yLabel, [
      { t: 'M', it: true },
      { t: 'G,', it: true, sub: true },
      { t: '0', sub: true, dx: 19 },
      { t: '(mag)', dx: 53 },
    ]);
  }, []);

  return (
    <svg
      ref={ref}
      width={2751}
      height={2735}
      style={{ position: 'absolute', left: 0, top: 0, background: 'white', display: 'block' }}
    />
  );
};

export default App;
